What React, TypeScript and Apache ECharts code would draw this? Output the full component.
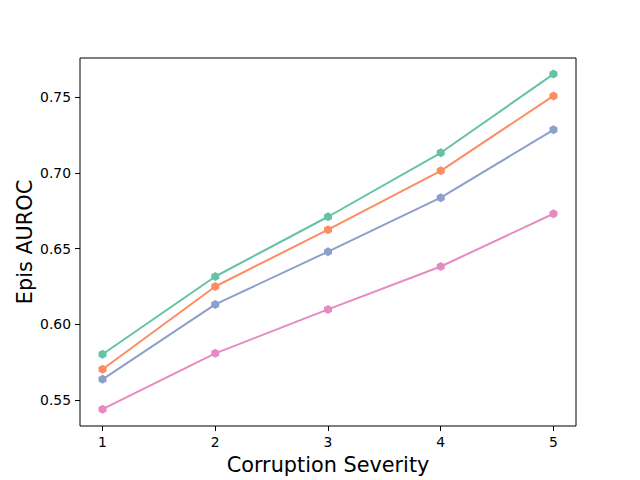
import React, { useEffect, useRef } from "react";
import * as echarts from "echarts";

const severities = [1, 2, 3, 4, 5];
const xTicks = [1, 2, 3, 4, 5];
const yTicks = [0.55, 0.6, 0.65, 0.7, 0.75];
const seriesNames = ["A", "B", "C", "D"];
const seriesColors = ["#66c2a5", "#fc8d62", "#8da0cb", "#e78ac3"];
const greenValues = [0.5803, 0.6316, 0.671, 0.7132, 0.7651];
const orangeValues = [0.5704, 0.625, 0.6625, 0.7013, 0.7507];
const blueValues = [0.5638, 0.6132, 0.648, 0.6836, 0.7283];
const pinkValues = [0.5441, 0.5809, 0.6099, 0.6382, 0.673];
const allValues = [greenValues, orangeValues, blueValues, pinkValues];

const HEX = "path://M0,-1 L0.866,-0.5 L0.866,0.5 L0,1 L-0.866,0.5 L-0.866,-0.5 Z";
const FONT = "DejaVu Sans";

export default function App() {
  const ref = useRef<HTMLDivElement>(null);
  useEffect(() => {
    document.body.style.margin = "0";
    const chart = echarts.init(ref.current!, null, { renderer: "svg" });
    chart.setOption({
      animation: false,
      backgroundColor: "#ffffff",
      grid: {
        left: 80,
        right: 64,
        top: 58,
        bottom: 53,
        show: true,
        borderColor: "#000000",
        borderWidth: 1,
        backgroundColor: "transparent",
      },
      xAxis: {
        type: "value",
        min: 0.8,
        max: 5.2,
        name: "Corruption Severity",
        nameLocation: "middle",
        nameGap: 28,
        nameTextStyle: { fontFamily: FONT, fontSize: 20.8, color: "#000" },
        axisLine: { show: false },
        splitLine: { show: false },
        axisTick: {
          show: true,
          length: 5,
          customValues: xTicks,
          lineStyle: { color: "#000", width: 1 },
        },
        axisLabel: {
          customValues: xTicks,
          margin: 9,
          fontFamily: FONT,
          fontSize: 13.9,
          color: "#000",
          formatter: (v: number) => String(v),
        },
      },
      yAxis: {
        type: "value",
        min: 0.533,
        max: 0.7757,
        name: "Epis AUROC",
        nameLocation: "middle",
        nameGap: 45,
        nameMoveOverlap: false,
        nameTextStyle: { fontFamily: FONT, fontSize: 20.8, color: "#000" },
        axisLine: { show: false },
        splitLine: { show: false },
        axisTick: {
          show: true,
          length: 5,
          customValues: yTicks,
          lineStyle: { color: "#000", width: 1 },
        },
        axisLabel: {
          customValues: yTicks,
          margin: 9,
          fontFamily: FONT,
          fontSize: 13.9,
          color: "#000",
          formatter: (v: number) => v.toFixed(2),
        },
      },
      series: allValues.map((vals, i) => ({
        name: seriesNames[i],
        type: "line",
        data: vals.map((v, j) => [severities[j], v]),
        symbol: HEX,
        symbolSize: [8, 9],
        showSymbol: true,
        lineStyle: { color: seriesColors[i], width: 2 },
        itemStyle: { color: seriesColors[i] },
        z: 2 + i,
      })),
    });
    return () => chart.dispose();
  }, []);
  return <div ref={ref} style={{ width: 640, height: 480 }} />;
}
